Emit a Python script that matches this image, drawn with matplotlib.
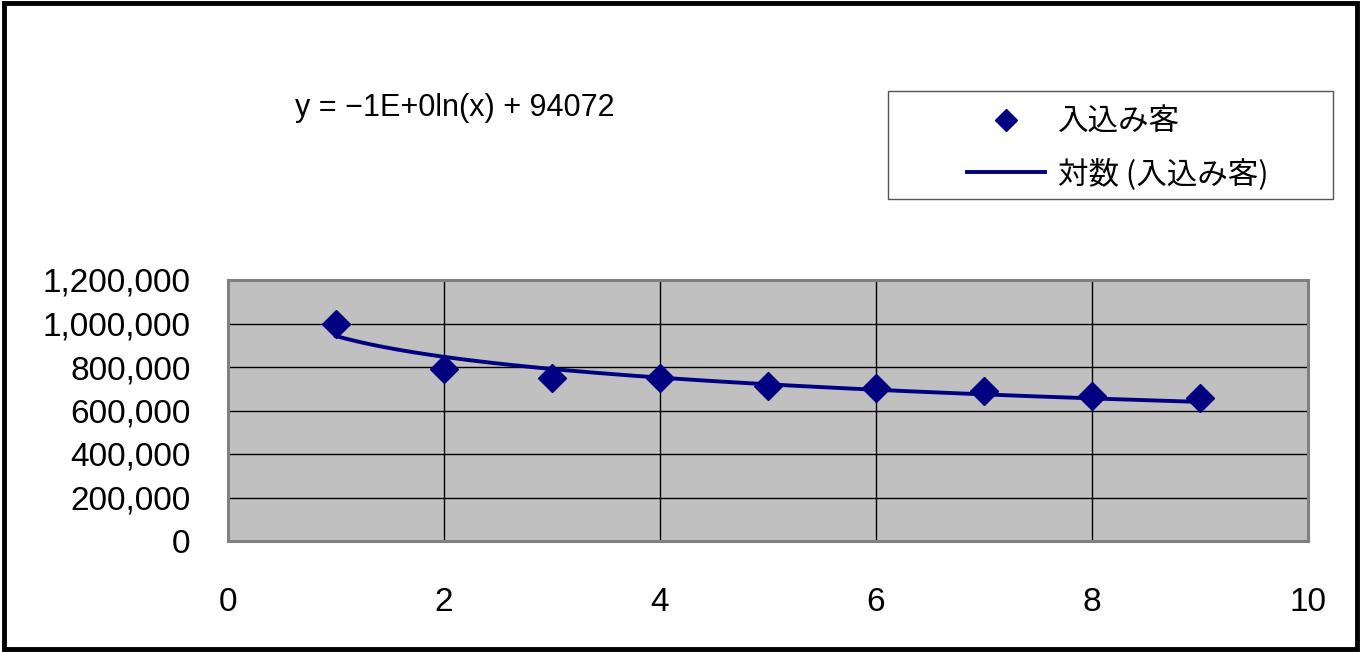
import numpy as np
import matplotlib
matplotlib.use("Agg")
import matplotlib.pyplot as plt
from matplotlib.patches import Rectangle
from matplotlib.ticker import FuncFormatter
from matplotlib.lines import Line2D

plt.rcParams['font.family'] = ['Liberation Sans', 'Noto Sans CJK JP', 'DejaVu Sans']

x_vals = [1, 2, 3, 4, 5, 6, 7, 8, 9]
visitors = [1000000, 791000, 749000, 750000, 714000, 703000, 688000, 665000, 656000]
series_label = "入込み客"
trend_label = "対数 (入込み客)"
equation_text = "y = −1E+0ln(x) + 94072"
x_ticks = [0, 2, 4, 6, 8, 10]
y_ticks = [0, 200000, 400000, 600000, 800000, 1000000, 1200000]

navy = "#000080"

fig = plt.figure(figsize=(13.62, 6.52), dpi=100)
ax = fig.add_axes([228/1362, 1-541/652, (1308-228)/1362, (541-280)/652])
ax.set_facecolor("#C0C0C0")

# log trend fit
lx = np.log(np.array(x_vals, dtype=float))
slope, intercept = np.polyfit(lx, np.array(visitors, dtype=float), 1)
xt = np.linspace(min(x_vals), max(x_vals), 200)
yt = slope * np.log(xt) + intercept

ax.plot(xt, yt, color=navy, lw=2.8, zorder=3)
ax.plot(x_vals, visitors, linestyle='none', marker='D', markersize=14,
        color=navy, zorder=4)

ax.set_xlim(0, 10)
ax.set_ylim(0, 1200000)
ax.set_xticks(x_ticks)
ax.set_yticks(y_ticks)
ax.yaxis.set_major_formatter(FuncFormatter(lambda v, p: f"{int(v):,}"))
ax.grid(True, color="black", lw=1.0)
ax.set_axisbelow(True)
ax.tick_params(axis='both', length=0, labelsize=24)
ax.tick_params(axis='x', pad=33)
ax.tick_params(axis='y', pad=27)
for s in ax.spines.values():
    s.set_color("#808080")
    s.set_linewidth(2.2)

fig.text(295/1362, 1-108/652, equation_text, fontsize=22, va='center', ha='left')

# legend box
fig.patches.append(Rectangle((888/1362, 1-199/652), (1333-888)/1362, (199-91)/652,
                             transform=fig.transFigure, facecolor='white',
                             edgecolor='#555555', lw=1.0, zorder=1))
handles = [Line2D([], [], linestyle='none', marker='D', markersize=11, color=navy),
           Line2D([], [], color=navy, lw=2.8)]
leg = fig.legend(handles, [series_label, trend_label], loc='upper left',
                 bbox_to_anchor=(967/1362, 1-107/652), frameon=False,
                 prop={'family': ['Noto Sans CJK JP'], 'size': 22},
                 handlelength=2.55, handletextpad=0.42, borderpad=0,
                 labelspacing=0.66, borderaxespad=0)
leg.set_zorder(2)

fig.patches.append(Rectangle((0.003, 0.005), 0.993, 0.99, transform=fig.transFigure,
                             fill=False, edgecolor='black', lw=3.5))

fig.savefig("out.png", dpi=100)
